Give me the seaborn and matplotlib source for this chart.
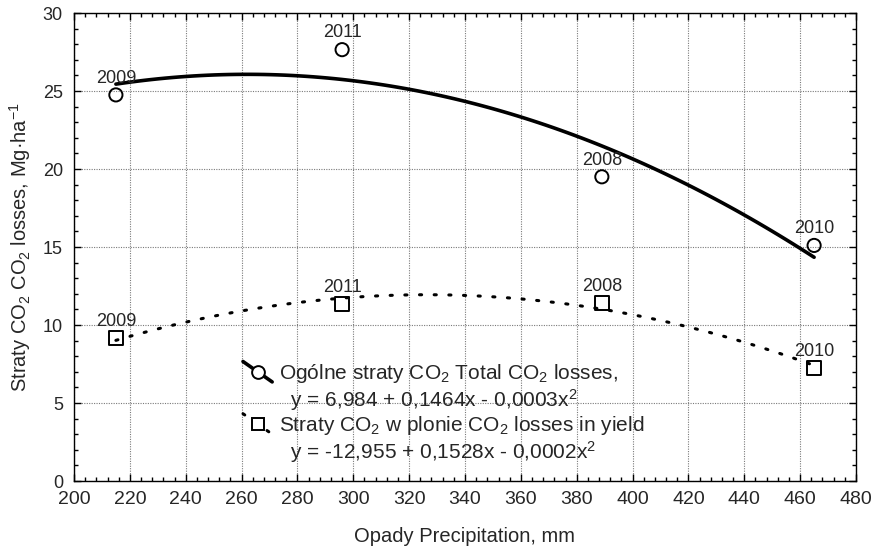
import numpy as np
import pandas as pd
import matplotlib
matplotlib.use("Agg")
import matplotlib.pyplot as plt
import seaborn as sns
from matplotlib.lines import Line2D
from matplotlib.legend_handler import HandlerBase
from matplotlib.ticker import MultipleLocator

# ==========================================
# DATA
# ==========================================

years = ["2009", "2011", "2008", "2010"]
precipitation = [215, 296, 389, 465]
total_losses = [24.75, 27.65, 19.5, 15.1]
yield_losses = [9.15, 11.35, 11.4, 7.26]

total_label = "Ogólne straty CO$_\\mathregular{2}$ Total CO$_\\mathregular{2}$ losses,"
total_eq = "  y = 6,984 + 0,1464x - 0,0003x$^\\mathregular{2}$"
yield_label = "Straty CO$_\\mathregular{2}$ w plonie CO$_\\mathregular{2}$ losses in yield"
yield_eq = "  y = -12,955 + 0,1528x - 0,0002x$^\\mathregular{2}$"

df = pd.DataFrame({
    "year": years,
    "x": precipitation,
    "total": total_losses,
    "yield": yield_losses,
})

# ==========================================
# STYLE
# ==========================================

sns.set_style("ticks")
plt.rcParams["font.family"] = ["Liberation Sans", "DejaVu Sans"]
plt.rcParams["mathtext.fontset"] = "custom"
plt.rcParams["mathtext.rm"] = "Liberation Sans"
plt.rcParams["mathtext.it"] = "Liberation Sans:italic"

DOTTED = (0, (0.7, 4.1))


class TiltedHandler(HandlerBase):
    # line drawn on a slant through the marker, like the original legend
    def __init__(self, marker, lw, ls):
        super().__init__()
        self.marker = marker
        self.lw = lw
        self.ls = ls

    def create_artists(self, legend, orig_handle, xdescent, ydescent,
                       width, height, fontsize, trans):
        x0 = -xdescent
        x1 = x0 + width
        ym = height / 2 - ydescent
        dy = height * 0.7
        line = Line2D([x0, x1], [ym + dy, ym - dy], color="black",
                      lw=self.lw, ls=self.ls, dash_capstyle="round")
        mark = Line2D([(x0 + x1) / 2], [ym], ls="none", marker=self.marker,
                      ms=9.2, mfc="white", mec="black", mew=1.4)
        line.set_transform(trans)
        mark.set_transform(trans)
        return [line, mark]


# ==========================================
# FIGURE
# ==========================================

fig = plt.figure(figsize=(8.76, 5.52), dpi=100)
ax = fig.add_axes([74 / 876, 1 - 481 / 552, 782 / 876, 468 / 552])

# fitted quadratic trends
sns.regplot(data=df, x="x", y="total", order=2, ci=None, scatter=False,
            truncate=True, ax=ax,
            line_kws={"color": "black", "lw": 2.6, "zorder": 3})
sns.regplot(data=df, x="x", y="yield", order=2, ci=None, scatter=False,
            truncate=True, ax=ax,
            line_kws={"color": "black", "lw": 2.2, "ls": DOTTED,
                      "dash_capstyle": "round", "zorder": 3})

# points
sns.scatterplot(data=df, x="x", y="total", marker="o", s=90,
                facecolor="none", edgecolor="black", linewidth=1.4,
                ax=ax, zorder=4)
sns.scatterplot(data=df, x="x", y="yield", marker="s", s=95,
                facecolor="none", edgecolor="black", linewidth=1.4,
                ax=ax, zorder=4)

# year labels
for i in range(len(years)):
    ax.annotate(years[i], (precipitation[i], total_losses[i]),
                xytext=(0, 12), textcoords="offset points",
                ha="center", va="center", fontsize=13)
    ax.annotate(years[i], (precipitation[i], yield_losses[i]),
                xytext=(0, 12), textcoords="offset points",
                ha="center", va="center", fontsize=13)

# ==========================================
# AXES
# ==========================================

ax.set_xlim(200, 480)
ax.set_ylim(0, 30)
ax.xaxis.set_major_locator(MultipleLocator(20))
ax.xaxis.set_minor_locator(MultipleLocator(4))
ax.yaxis.set_major_locator(MultipleLocator(5))
ax.yaxis.set_minor_locator(MultipleLocator(1))

ax.grid(True, which="major", color="#7a7a7a", lw=0.8, ls=(0, (1, 1.2)))
ax.set_axisbelow(True)

ax.tick_params(which="both", direction="in", top=True, right=True,
               color="black", width=1)
ax.tick_params(which="major", length=5)
ax.tick_params(which="minor", length=3)
ax.tick_params(axis="x", pad=7, labelsize=14)
ax.tick_params(axis="y", pad=8, labelsize=13)

for side in ax.spines.values():
    side.set_color("black")
    side.set_linewidth(1)

ax.set_xlabel("Opady Precipitation, mm", fontsize=14.5, labelpad=14)
ax.set_ylabel("Straty CO$_\\mathregular{2}$ CO$_\\mathregular{2}$ losses, "
              "Mg·ha$^\\mathregular{-1}$", fontsize=14.5, labelpad=7)

# ==========================================
# LEGEND
# ==========================================

h_total = Line2D([], [], color="black")
h_yield = Line2D([], [], color="black")
h_blank1 = Line2D([], [], color="none")
h_blank2 = Line2D([], [], color="none")

leg = ax.legend(
    [h_total, h_blank1, h_yield, h_blank2],
    [total_label, total_eq, yield_label, yield_eq],
    handler_map={
        h_total: TiltedHandler("o", 2.6, "-"),
        h_yield: TiltedHandler("s", 2.2, DOTTED),
    },
    loc="upper left",
    bbox_to_anchor=((243 - 74) / 782, (481 - 362) / 468),
    frameon=False,
    fontsize=15,
    handlelength=1.4,
    handletextpad=0.33,
    labelspacing=0.08,
    borderpad=0,
    borderaxespad=0,
)

fig.savefig("out.png", dpi=100)
